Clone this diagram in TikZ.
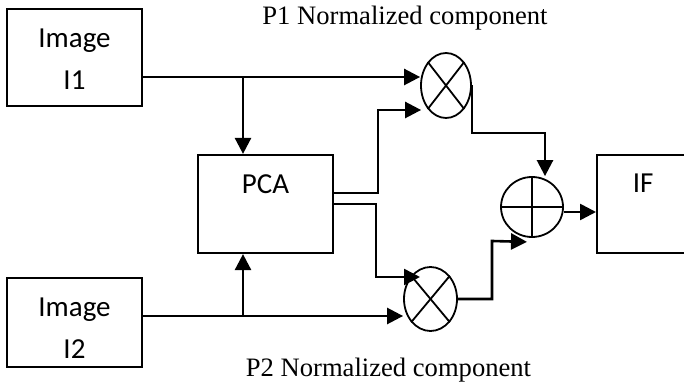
\documentclass[tikz,border=0pt]{standalone}
\usepackage{fontspec}
\setmainfont{Liberation Serif}
\newfontfamily\boxfont{Carlito}
\usetikzlibrary{arrows.meta,positioning,calc,shapes.geometric}
\tikzset{
    blk/.style={
        draw,
        line width=1.1pt,
        align=center,
        inner sep=0pt,
        minimum width=67.5pt,
        font=\boxfont\fontsize{14.5}{21}\selectfont
    },
    mult/.style={
        draw,
        ellipse,
        line width=0.9pt,
        inner sep=0pt
    },
    cross/.style={line width=0.9pt},
    arrow/.style={
        -{Triangle[length=8pt,width=8pt]},
        line width=1.3pt
    },
    lbl/.style={font=\fontsize{13.3}{16}\selectfont, inner sep=0pt, anchor=base}
}

\begin{document}
\begin{tikzpicture}[x=0.5pt,y=-0.5pt]
\useasboundingbox (0,0) rectangle (684,389);
\clip (0,0) rectangle (684,389);

\node[blk, minimum height=48.5pt, text height=40.5pt, text depth=8pt] (i1) at (74.5,57.5) {Image\\I1};
\node[blk, minimum height=44.5pt, text height=40pt, text depth=4.5pt] (i2) at (74.5,322.5) {Image\\I2};
\node[blk, minimum height=49pt, text height=19.5pt, text depth=29.5pt] (pca) at (265.5,204) {PCA};
\node[blk, minimum width=46pt, minimum height=49pt, text height=19pt, text depth=30pt, anchor=west] (if) at (596,204) {IF};

\node[mult, minimum width=25pt, minimum height=32.5pt] (m1) at (446,85.5) {};
\node[mult, minimum width=26.5pt, minimum height=32pt] (m2) at (430.5,299) {};
\node[mult, minimum width=31pt, minimum height=30pt] (add) at (532,207) {};

\draw[cross] (m1.north west) -- (m1.south east);
\draw[cross] (m1.north east) -- (m1.south west);
\draw[cross] (m2.north west) -- (m2.south east);
\draw[cross] (m2.north east) -- (m2.south west);
\draw[cross] (add.north) -- (add.south);
\draw[cross] (add.west) -- (add.east);

\node[lbl] (p1) at (405,25) {P1 Normalized component};
\node[lbl] (p2) at (388.5,376) {P2 Normalized component};

% branch points and bends
\coordinate (j1) at (243,77);
\coordinate (j2) at (243,316);
\coordinate (o1) at (378,193);
\coordinate (o2) at (376,204);
\coordinate (k1) at (545,133);
\coordinate (k2) at (492,241);

\draw[arrow] (i1.east |- j1) -- (j1 -| m1.west);
\draw[arrow] (j1) -- (j1 |- pca.north);
\draw[arrow] (i2.east |- j2) -- (j2 -| m2.west);
\draw[arrow] (j2) -- (j2 |- pca.south);
\draw[arrow] (pca.east |- o1) -- (o1) |- ($(m1.west)+(1,24.5)$);
\draw[arrow] (pca.east |- o2) -- (o2) |- ($(m2.center)+(-10.5,-22)$);
\draw[arrow] (m1.east) |- (k1) -- (k1 |- add.north);
\draw[arrow] (m2.east) -| (k2) -- ($(add.south)+(-5,4)$);
\draw[arrow] ($(add.east)+(0,5)$) -- ($(if.west)+(0,8)$);

\end{tikzpicture}
\end{document}
